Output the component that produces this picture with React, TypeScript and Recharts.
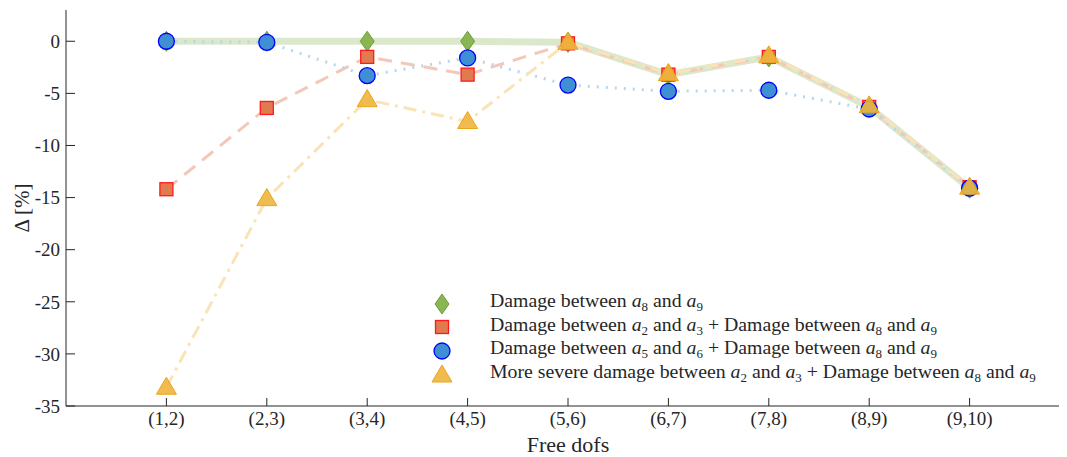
import * as React from "react";
import { Legend, Line, LineChart, XAxis, YAxis } from "recharts";

// Free-dof pairs on the x axis
const categories = ["(1,2)", "(2,3)", "(3,4)", "(4,5)", "(5,6)", "(6,7)", "(7,8)", "(8,9)", "(9,10)"];

// Δ [%] per damage scenario
const damageA8A9 = [0, 0, 0, 0, -0.1, -3.2, -1.5, -6.3, -14.1];
const damageA2A3 = [-14.2, -6.4, -1.5, -3.2, -0.2, -3.2, -1.5, -6.3, -14.0];
const damageA5A6 = [0, -0.1, -3.3, -1.6, -4.2, -4.8, -4.7, -6.5, -14.1];
const severeA2A3 = [-33.2, -15.1, -5.6, -7.7, -0.1, -3.1, -1.4, -6.2, -14.0];

const yTicks = [-35, -30, -25, -20, -15, -10, -5, 0];
const xTicks = categories.map((_, i) => i + 1);

const chartData = categories.map((c, i) => ({
  x: i + 1,
  label: c,
  green: damageA8A9[i],
  red: damageA2A3[i],
  blue: damageA5A6[i],
  yellow: severeA2A3[i],
}));

const FONT = "'Liberation Serif', 'DejaVu Serif', serif";
const TEXT = "#262626";
const AXIS = "#262626";

type DotProps = { cx?: number; cy?: number; index?: number };

function Diamond({ cx = 0, cy = 0 }: DotProps) {
  return (
    <path
      d={`M${cx},${cy - 10} L${cx + 7},${cy} L${cx},${cy + 10} L${cx - 7},${cy} Z`}
      fill="#8ab554"
      stroke="#6e9f38"
      strokeWidth={1}
    />
  );
}

function Square({ cx = 0, cy = 0 }: DotProps) {
  return <rect x={cx - 6.5} y={cy - 6.5} width={13} height={13} fill="#e27a50" stroke="#ff1a1a" strokeWidth={1.3} />;
}

function Circle({ cx = 0, cy = 0 }: DotProps) {
  return <circle cx={cx} cy={cy} r={8} fill="#3f8fd4" stroke="#0000ff" strokeWidth={1.3} />;
}

function Triangle({ cx = 0, cy = 0 }: DotProps) {
  return (
    <path
      d={`M${cx},${cy - 10} L${cx + 10},${cy + 7} L${cx - 10},${cy + 7} Z`}
      fill="#f0b53c"
      fillOpacity={0.9}
      stroke="#eaa51c"
      strokeWidth={1}
    />
  );
}

const A = ({ n }: { n: string }) => (
  <span>
    <i>a</i>
    <sub style={{ fontSize: 13, verticalAlign: "-4px" }}>{n}</sub>
  </span>
);

const legendRows: { marker: React.ReactNode; text: React.ReactNode }[] = [
  {
    marker: <Diamond cx={11} cy={11} />,
    text: (
      <>
        Damage between <A n="8" /> and <A n="9" />
      </>
    ),
  },
  {
    marker: <Square cx={11} cy={11} />,
    text: (
      <>
        Damage between <A n="2" /> and <A n="3" /> + Damage between <A n="8" /> and <A n="9" />
      </>
    ),
  },
  {
    marker: <Circle cx={11} cy={11} />,
    text: (
      <>
        Damage between <A n="5" /> and <A n="6" /> + Damage between <A n="8" /> and <A n="9" />
      </>
    ),
  },
  {
    marker: <Triangle cx={11} cy={12} />,
    text: (
      <>
        More severe damage between <A n="2" /> and <A n="3" /> + Damage between <A n="8" /> and <A n="9" />
      </>
    ),
  },
];

function LegendBox() {
  return (
    <div style={{ fontFamily: FONT, fontSize: 19.8, color: TEXT, lineHeight: "20px" }}>
      {legendRows.map((r, i) => (
        <div key={i} style={{ display: "flex", alignItems: "center", height: 23.5 }}>
          <svg width={22} height={22} style={{ marginRight: 37, flexShrink: 0 }}>
            {r.marker}
          </svg>
          <span style={{ whiteSpace: "nowrap" }}>{r.text}</span>
        </div>
      ))}
    </div>
  );
}

export default function App() {
  const tickStyle = { fontFamily: FONT, fontSize: 19, fill: TEXT };
  return (
    <div style={{ margin: "-8px -8px 0 -8px", width: 1067, height: 457, overflow: "hidden", background: "#fff", position: "relative" }}>
      <LineChart
        width={1071}
        height={457}
        data={chartData}
        margin={{ top: 10, right: 1, bottom: 0, left: 0 }}
      >
        <XAxis
          xAxisId="bottom"
          type="number"
          dataKey="x"
          domain={[0, 10]}
          ticks={xTicks}
          tickFormatter={(v: number) => categories[v - 1] ?? ""}
          tickSize={-8}
          tickMargin={14}
          height={51}
          tick={tickStyle}
          stroke={AXIS}
          tickLine={{ stroke: AXIS }}
          label={{ value: "Free dofs", position: "insideBottom", offset: 5, style: { fontFamily: FONT, fontSize: 22, fill: TEXT } }}
        />
        <XAxis
          xAxisId="top"
          orientation="top"
          type="number"
          dataKey="x"
          domain={[0, 10]}
          ticks={xTicks}
          mirror
          tickSize={8}
          tickFormatter={() => ""}
          height={0}
          stroke={AXIS}
          tickLine={{ stroke: AXIS }}
        />
        <YAxis
          yAxisId="left"
          type="number"
          domain={[-35, 3]}
          ticks={yTicks}
          tickSize={-9}
          tickMargin={15}
          width={66}
          tick={tickStyle}
          stroke={AXIS}
          tickLine={{ stroke: AXIS }}
          label={{ value: "Δ [%]", angle: -90, position: "insideLeft", offset: 22, style: { fontFamily: FONT, fontSize: 21, fill: TEXT, textAnchor: "middle" } }}
        />
        <YAxis
          yAxisId="right"
          orientation="right"
          type="number"
          domain={[-35, 3]}
          ticks={yTicks}
          mirror
          tickSize={8}
          tickFormatter={() => ""}
          width={0}
          stroke={AXIS}
          tickLine={{ stroke: AXIS }}
        />
        <Legend
          layout="vertical"
          align="center"
          verticalAlign="middle"
          wrapperStyle={{ left: 431, top: 292, width: 636 }}
          content={() => <LegendBox />}
        />
        <Line
          xAxisId="bottom"
          yAxisId="left"
          dataKey="green"
          stroke="#dce8cb"
          strokeWidth={7}
          dot={(p: DotProps) => <Diamond key={`g${p.index}`} {...p} />}
          activeDot={false}
          isAnimationActive={false}
        />
        <Line
          xAxisId="bottom"
          yAxisId="left"
          dataKey="red"
          stroke="#f4c8b9"
          strokeWidth={3}
          strokeDasharray="14 9"
          dot={(p: DotProps) => <Square key={`r${p.index}`} {...p} />}
          activeDot={false}
          isAnimationActive={false}
        />
        <Line
          xAxisId="bottom"
          yAxisId="left"
          dataKey="blue"
          stroke="#b5d6ef"
          strokeWidth={3}
          strokeDasharray="2 7"
          dot={(p: DotProps) => <Circle key={`b${p.index}`} {...p} />}
          activeDot={false}
          isAnimationActive={false}
        />
        <Line
          xAxisId="bottom"
          yAxisId="left"
          dataKey="yellow"
          stroke="#fae3b6"
          strokeWidth={3}
          strokeDasharray="13 6 3 6"
          dot={(p: DotProps) => <Triangle key={`y${p.index}`} {...p} />}
          activeDot={false}
          isAnimationActive={false}
        />
      </LineChart>
    </div>
  );
}
